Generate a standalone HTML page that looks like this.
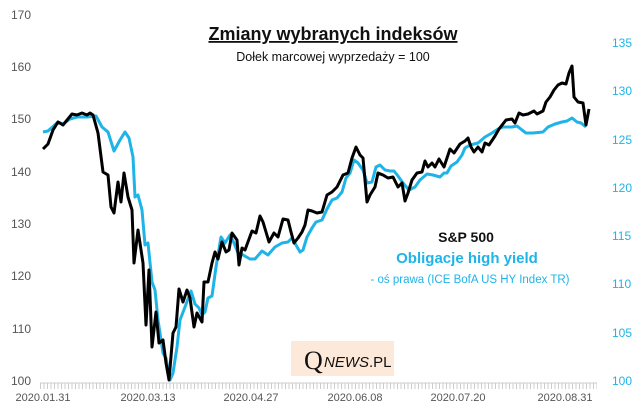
<!DOCTYPE html>
<html><head><meta charset="utf-8"><style>
body{margin:0;background:#fff}
svg{display:block;font-family:"Liberation Sans",sans-serif}
</style></head><body>
<svg width="642" height="415" viewBox="0 0 642 415">
<defs><pattern id="tk" x="40" y="0" width="3.5" height="6" patternUnits="userSpaceOnUse"><rect x="0" y="0" width="1" height="6" fill="#ccc"/></pattern></defs>
<rect x="40" y="383" width="557" height="6" fill="url(#tk)"/>
<line x1="40" y1="383" x2="597" y2="383" stroke="#ccc" stroke-width="1"/>
<g font-size="12" fill="#555" text-anchor="end">
<text x="31" y="19">170</text><text x="31" y="71">160</text><text x="31" y="123">150</text><text x="31" y="176">140</text><text x="31" y="228">130</text><text x="31" y="280">120</text><text x="31" y="333">110</text><text x="31" y="385">100</text>
</g>
<g font-size="12" fill="#1fb4e8">
<text x="612" y="47">135</text><text x="612" y="95">130</text><text x="612" y="144">125</text><text x="612" y="192">120</text><text x="612" y="240">115</text><text x="612" y="288">110</text><text x="612" y="337">105</text><text x="612" y="385">100</text>
</g>
<g font-size="11" fill="#555" text-anchor="middle">
<text x="43" y="401">2020.01.31</text><text x="148" y="401">2020.03.13</text><text x="251" y="401">2020.04.27</text><text x="355" y="401">2020.06.08</text><text x="458" y="401">2020.07.20</text><text x="565" y="401">2020.08.31</text>
</g>
<text x="333" y="40" font-size="18" font-weight="bold" text-anchor="middle" text-decoration="underline" fill="#111">Zmiany wybranych indeksów</text>
<text x="333" y="61" font-size="12.5" text-anchor="middle" fill="#111">Dołek marcowej wyprzedaży = 100</text>
<rect x="291" y="341" width="103" height="35" fill="#fde9d9"/>
<text x="304" y="369" font-family="Liberation Serif,serif" font-size="26" fill="#111">Q</text>
<text x="324" y="367" font-size="15" font-style="italic" fill="#111">NEWS<tspan font-style="normal">.PL</tspan></text>
<polyline fill="none" stroke="#1fb4e8" stroke-width="3" stroke-linejoin="round" points="43,132 48,131 58,122 63,124 70,119 77,117 87,117 96,116 102,127 108,132 114,151 120,140 125,132 129,138 133,157 135,197 138,195 142,210 145,245 148,243 152,282 155,290 158,320 163,353 166,358 170,380 173,373 177,347 180,320 185,307 191,291 195,304 199,308 202,315 205,312 208,298 212,296 216,267 221,237 225,243 230,235 234,243 238,253 243,255 250,259 255,259 262,251 268,255 275,247 282,243 288,242 292,238 296,245 300,252 303,250 307,237 312,228 316,222 322,220 327,209 332,200 337,198 342,192 346,178 350,173 354,160 358,163 363,170 367,183 372,182 376,167 380,165 385,170 390,171 394,171 398,176 403,183 409,190 415,187 420,180 427,174 433,175 440,177 444,173 447,173 451,166 457,162 462,155 465,148 470,145 478,143 485,137 492,133 498,129 503,127 512,127 517,126 522,130 526,133 533,133 543,132 548,127 555,124 562,122 567,121 572,118 577,122 581,123 586,127"/>
<polyline fill="none" stroke="#000" stroke-width="3" stroke-linejoin="round" points="43,149 48,144 53,130 58,122 63,125 72,114 77,115 82,113 87,115 90,113 93,115 98,133 103,172 108,175 111,207 114,213 118,182 121,202 124,173 128,197 132,210 134,263 138,230 143,263 146,325 149,270 152,347 156,312 159,343 163,340 166,363 169,380 173,333 176,327 179,289 183,302 187,290 190,298 194,327 197,313 202,322 204,282 208,282 212,263 215,252 218,259 222,242 226,252 229,250 232,233 237,240 239,265 242,248 245,250 252,231 256,233 260,216 263,222 269,242 274,233 278,237 283,219 288,220 291,232 294,243 298,238 302,232 305,225 308,210 312,211 317,213 322,212 327,195 332,192 337,187 343,175 348,173 352,158 356,147 360,155 363,158 367,202 370,195 375,187 378,173 383,175 388,178 393,177 398,187 402,183 405,201 408,193 412,180 417,173 422,172 425,161 428,167 432,163 435,167 439,159 444,167 450,149 454,153 460,144 465,141 468,138 471,147 474,152 478,147 482,152 485,143 489,145 495,136 499,129 506,120 512,119 515,123 519,113 523,115 528,114 534,111 537,114 543,111 546,102 550,97 554,90 558,85 562,83 566,84 569,73 572,66 574,97 578,102 583,103 586,125 589,109"/>
<text x="466" y="242" font-size="14" font-weight="bold" text-anchor="middle" fill="#111">S&amp;P 500</text>
<text x="467" y="263" font-size="15" font-weight="bold" text-anchor="middle" fill="#1fb4e8">Obligacje high yield</text>
<text x="470" y="283" font-size="11.5" text-anchor="middle" fill="#1fb4e8">- oś prawa (ICE BofA US HY Index TR)</text>
</svg>
</body></html>
